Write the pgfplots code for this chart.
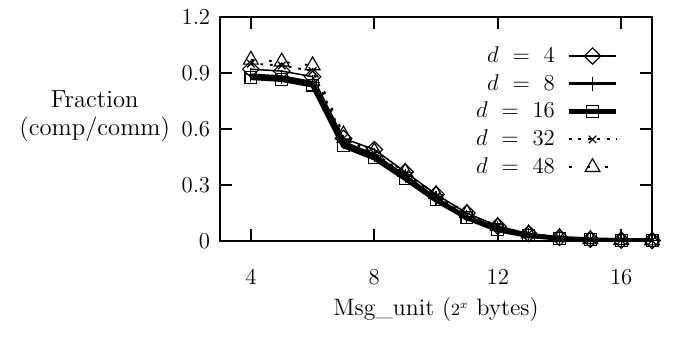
\documentclass[border=0pt]{standalone}
\usepackage{pgfplots}
\pgfplotsset{compat=1.18}
\begin{document}
\fontsize{12}{14}\selectfont
\begin{tikzpicture}
\begin{axis}[
  at={(0,0)}, anchor=south west,
  scale only axis, width=227.4pt, height=118pt,
  font=\fontsize{12}{14}\selectfont,
  xmin=3, xmax=17, ymin=0, ymax=1.2,
  xtick={4,8,12,16}, ytick={0,0.3,0.6,0.9,1.2},
  yticklabels={0,0.3,0.6,0.9,1.2},
  tick align=inside, major tick length=6.5pt,
  axis line style={line width=1.2pt},
  every tick/.style={line width=1pt, black},
  xticklabel style={yshift=-11pt},
  yticklabel style={xshift=-1pt},
  xlabel={Msg\_unit ($\scriptstyle 2^x$ bytes)},
  xlabel style={at={(axis description cs:0.5,-0.305)}, anchor=center, font=\fontsize{12.5}{14}\selectfont},
  ylabel={Fraction\\(comp/comm)},
  ylabel style={rotate=-90, align=center, at={(axis description cs:-0.29,0.558)}, anchor=center, font=\fontsize{13}{15}\selectfont},
  legend style={draw=none, fill=none, at={(axis description cs:0.937,0.904)}, anchor=north east, row sep=0.5pt,
    /tikz/every odd column/.append style={column sep=4pt}},
  legend plot pos=right, legend cell align=right,
  legend image code/.code={\draw[mark repeat=2,mark phase=2] plot coordinates {(0cm,0cm)(0.44cm,0cm)(0.88cm,0cm)};},
]
\addplot[black, line width=0.8pt, mark=diamond, mark size=4.3pt, mark options={solid, fill=white, line width=0.6pt, xscale=1.35}] coordinates {
(4,0.92)(5,0.91)(6,0.88)(7,0.55)(8,0.49)(9,0.37)(10,0.25)(11,0.15)(12,0.08)(13,0.04)(14,0.02)(15,0.01)(16,0.005)(17,0.003)};
\addlegendentry{$d\ =\ 4$}
\addplot[black, line width=1.5pt, mark=+, mark size=3.7pt, mark options={solid, line width=0.6pt}] coordinates {
(4,0.89)(5,0.88)(6,0.85)(7,0.53)(8,0.46)(9,0.35)(10,0.23)(11,0.13)(12,0.07)(13,0.035)(14,0.015)(15,0.008)(16,0.004)(17,0.002)};
\addlegendentry{$d\ =\ 8$}
\addplot[black, line width=2.6pt, mark=square, mark size=3.1pt, mark options={solid, fill=none, line width=0.6pt}] coordinates {
(4,0.875)(5,0.865)(6,0.835)(7,0.51)(8,0.445)(9,0.335)(10,0.22)(11,0.125)(12,0.06)(13,0.03)(14,0.015)(15,0.007)(16,0.003)(17,0.002)};
\addlegendentry{$d\ =\ 16$}
\addplot[black, line width=1pt, dash pattern=on 1.5pt off 3.5pt, mark=x, mark size=2.8pt, mark options={solid, line width=0.6pt}] coordinates {
(4,0.95)(5,0.94)(6,0.91)(7,0.55)(8,0.47)(9,0.36)(10,0.24)(11,0.14)(12,0.075)(13,0.04)(14,0.02)(15,0.01)(16,0.005)(17,0.003)};
\addlegendentry{$d\ =\ 32$}
\addplot[black, line width=1pt, dash pattern=on 1.5pt off 8pt, mark=triangle, mark size=4.5pt, mark options={solid, fill=none, line width=0.6pt}] coordinates {
(4,0.97)(5,0.96)(6,0.94)(7,0.57)(8,0.48)(9,0.37)(10,0.25)(11,0.15)(12,0.08)(13,0.04)(14,0.02)(15,0.01)(16,0.005)(17,0.003)};
\addlegendentry{$d\ =\ 48$}
\end{axis}
\useasboundingbox (-115.8pt,-57.4pt) rectangle (246.3pt,126.9pt);
\end{tikzpicture}
\end{document}
